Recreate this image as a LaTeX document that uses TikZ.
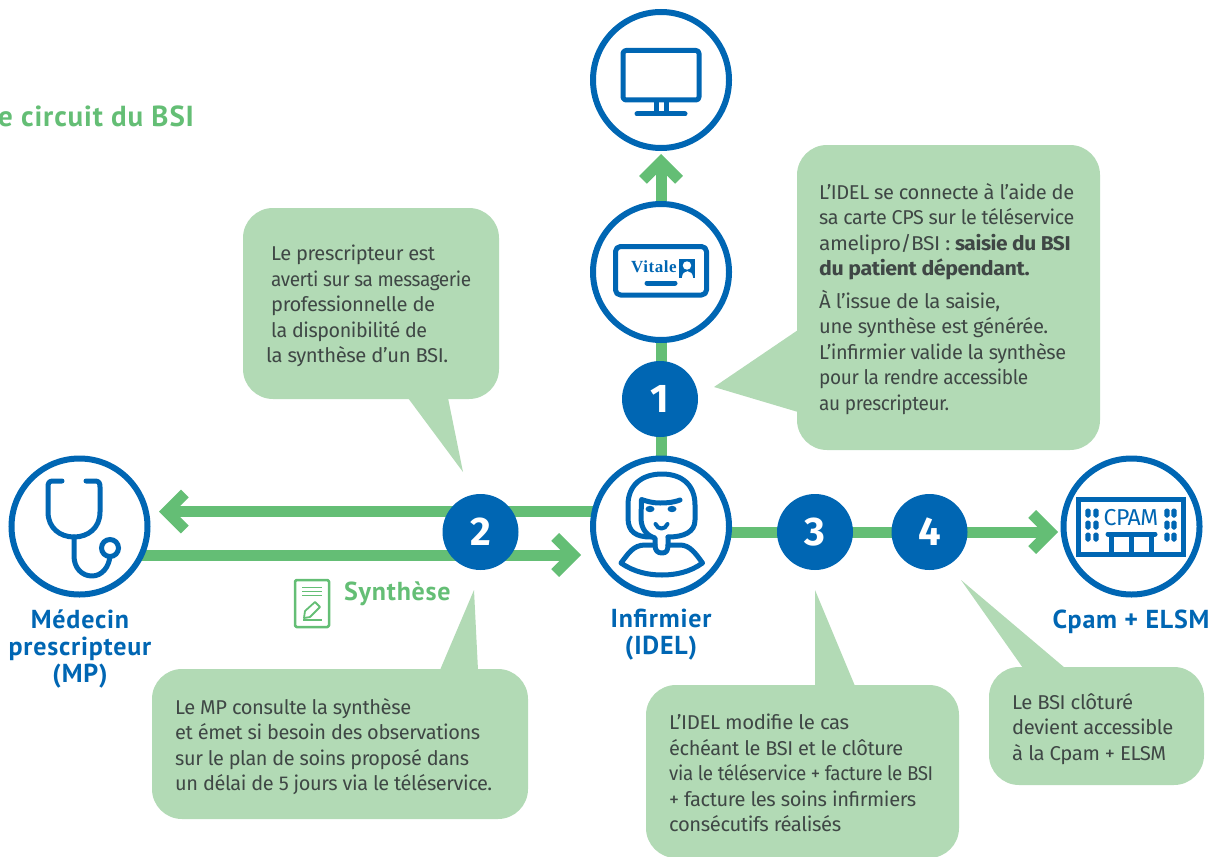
\documentclass[tikz,border=0pt]{standalone}
\usepackage{fontspec}
\usepackage{graphicx}
\setmainfont[LetterSpace=-2]{Fira Sans}
\newfontfamily\headfont[LetterSpace=3]{PT Sans}
\newfontfamily\vitfont[LetterSpace=3]{Liberation Serif}
\usetikzlibrary{arrows.meta,backgrounds}
\definecolor{bleu}{HTML}{0066B3}
\definecolor{vert}{HTML}{64BE75}
\definecolor{pale}{HTML}{B2DAB5}
\definecolor{encre}{HTML}{3F4745}
\newcommand{\ligne}[2]{\resizebox{#1pt}{\height}{#2}}
\tikzset{
  ring/.style={circle,draw=bleu,line width=6pt,fill=white,minimum size=136pt,inner sep=0pt},
  badge/.style={circle,fill=bleu,text=white,minimum size=76pt,inner sep=0pt,font=\fontsize{40}{40}\selectfont\bfseries},
  flow/.style={draw=vert,line width=11pt,-{Straight Barb[length=18pt,width=36pt,line width=11pt]}},
  flowplain/.style={draw=vert,line width=11pt},
  bubble/.style={fill=pale,rounded corners=30pt},
  tail/.style={fill=pale},
  body/.style={anchor=north west,inner sep=0pt,align=left,text=encre,font=\fontsize{20}{25.5}\selectfont},
  actor/.style={inner sep=0pt,align=center,text=bleu,font=\fontsize{26}{27}\selectfont\headfont\bfseries},
  icon/.style={draw=bleu,line width=5pt,line cap=round,line join=round},
  doc/.style={draw=vert,line width=2.5pt,line cap=round,line join=round},
}
\begin{document}
\begin{tikzpicture}[x=1pt,y=-1pt]
\useasboundingbox (0,0) rectangle (1214,856);
\clip (0,0) rectangle (1214,856);
% callouts
\fill[bubble] (243,208) rectangle (499,399);
\fill[tail] (408,398) -- (463,472) -- (448,398) -- cycle;
\fill[bubble] (797,145) rectangle (1100,450);
\fill[tail] (798,330) -- (714,387) -- (798,412) -- cycle;
\fill[bubble] (152,669) rectangle (528,819);
\fill[tail] (440,670) -- (474,590) -- (478,670) -- cycle;
\fill[bubble] (646,685) rectangle (959,858);
\fill[tail] (815,686) -- (815,590) -- (855,686) -- cycle;
\fill[bubble] (989,667) rectangle (1204,785);
\fill[tail] (1023,668) -- (961,580) -- (1065,668) -- cycle;
% circles
\node[ring] (screen) at (661,80) {};
\node[ring] (vitale) at (661,272) {};
\node[ring] (idel) at (661,526.5) {};
\node[ring] (mp) at (79.5,526.5) {};
\node[ring] (cpam) at (1131.5,526.5) {};
\node[badge] (b1) at (660,399) {1};
\node[badge] (b2) at (480.5,532) {2};
\node[badge] (b3) at (815,532) {3};
\node[badge] (b4) at (929.5,532) {4};
% arrow ends
\coordinate (tipscreen) at (661,154);
\coordinate (tipmp) at (159,511.5);
\coordinate (tipidel) at (581,555);
\coordinate (tipcpam) at (1058,532);
\begin{scope}[on background layer]
\draw[flowplain] (idel) -- (vitale);
\draw[flow] (vitale) -- (tipscreen);
\draw[flow] (idel |- tipmp) -- (tipmp);
\draw[flow] (mp |- tipidel) -- (tipidel);
\draw[flow] (idel |- tipcpam) -- (tipcpam);
\end{scope}
% monitor icon
\draw[icon,rounded corners=3pt] (623,50.5) rectangle (699,100);
\draw[icon,line cap=butt] (656,102) -- (656,113) (666,102) -- (666,113);
\draw[icon] (637,114) -- (685,114);
% vitale card icon
\draw[icon,rounded corners=5pt] (615.5,246.5) rectangle (706.5,295);
\node[inner sep=0pt,anchor=base west,text=bleu,font=\fontsize{17}{17}\selectfont\vitfont\bfseries] (vitxt) at (631,272) {Vitale};
\fill[bleu] (679,259) rectangle (695,277.5);
\fill[white] (687,265.5) circle (4.2);
\fill[white] (681.5,277.5) .. controls (681.5,269) and (692.5,269) .. (692.5,277.5) -- cycle;
\draw[icon] (647,283) -- (675,283);
% stethoscope
\draw[icon] (62,481) -- (53,481) .. controls (49,481) and (48,483) .. (48,487) -- (48,512)
  .. controls (48,528) and (60,537) .. (74,537) .. controls (88,537) and (100,528) .. (100,512)
  -- (100,487) .. controls (100,483) and (99,481) .. (95,481) -- (86,481);
\draw[icon] (74,537) -- (74,556) .. controls (74,568) and (82,576) .. (92,576) .. controls (102,576) and (109,567) .. (110,556);
\draw[draw=bleu,line width=5pt,fill=white] (110,548) circle (8.5);
% nurse
\draw[icon] (651,537) .. controls (636,537) and (628,532) .. (628,518) -- (628,505)
  .. controls (628,485) and (642,474) .. (662,474) .. controls (682,474) and (695,485) .. (695,505)
  -- (695,520) .. controls (695,532) and (684,537) .. (668,537);
\draw[icon] (680,500) .. controls (672,503) and (664,503) .. (660,503) .. controls (652,503) and (646,501) .. (641.5,499.5)
  -- (641,518) .. controls (641,530) and (648,536) .. (655,538) -- (655,545)
  .. controls (655,551) and (658,553) .. (662,553) .. controls (666,553) and (668,551) .. (668,545) -- (668,537);
\draw[icon] (655,545) -- (645,545) .. controls (633,545) and (628,554) .. (621,563)
  .. controls (634,572) and (648,575) .. (662,575) .. controls (676,575) and (690,572) .. (702.5,563)
  .. controls (696,554) and (690,545) .. (680,545) -- (668,545);
\fill[bleu] (650,509) ellipse (4.5 and 3.2) (672,509) ellipse (4.5 and 3.2);
\draw[icon,line width=4pt] (655.5,524) .. controls (658,530) and (665,530) .. (667.5,524);
% CPAM building
\draw[icon,line join=miter,line cap=butt] (1078.5,499) rectangle (1183.5,554);
\node[inner sep=0pt,text=bleu,font=\fontsize{23}{23}\selectfont] (cpamtxt) at (1131,518) {CPAM};
\foreach \px in {1088,1096,1167,1174}\foreach \py in {513,525,537}{
  \fill[bleu,rounded corners=1.8pt] (\px-2.7,\py-4.5) rectangle (\px+2.7,\py+4.5);
}
\draw[icon] (1108,534) -- (1155,534);
\draw[icon,line cap=butt] (1111.5,534) -- (1111.5,554) (1131.5,534) -- (1131.5,554) (1151.5,534) -- (1151.5,554);
% document icon
\draw[doc,rounded corners=1.5pt] (295,580) rectangle (329,627);
\draw[draw=vert,line width=1.5pt] (302,587.5) -- (322,587.5) (302,591.5) -- (322,591.5) (302,595.5) -- (322,595.5);
\draw[draw=vert,line width=1.8pt,line join=round] (304,618) -- (305,611) -- (315,602) -- (320,607) -- (310,617) -- cycle;
\draw[draw=vert,line width=2pt] (303,620) -- (322,620);
% labels
\node[actor] (lmp) at (80,648.5) {Médecin\\prescripteur\\(MP)};
\node[actor] (lidel) at (661,634.5) {Infirmier\\(IDEL)};
\node[actor,anchor=base] (lcpam) at (1131,628) {Cpam + ELSM};
\node[inner sep=0pt,anchor=base west,text=vert,font=\fontsize{26}{26}\selectfont\headfont\bfseries] (synth) at (344,600) {Synthèse};
\node[inner sep=0pt,anchor=base west,text=vert,font=\fontsize{29}{29}\selectfont\headfont\bfseries] (title) at (-2,126) {e circuit du BSI};
% texts
\node[body] (ta) at (266,245) {\hspace{5pt}\ligne{164}{Le prescripteur est}\\\hspace{5pt}\ligne{200}{averti sur sa messagerie}\\\hspace{5pt}\ligne{164}{professionnelle de}\\\hspace{5pt}\ligne{156}{la disponibilité de}\\\ligne{182}{la synthèse d’un BSI.}};
\node[body] (tb) at (819,183) {\ligne{255}{L’IDEL se connecte à l’aide de}\\\ligne{255}{sa carte CPS sur le téléservice}\\\ligne{251}{amelipro/BSI : \textbf{saisie du BSI}}\\\ligne{210}{\textbf{du patient dépendant.}}\\[7pt]\ligne{181}{À l’issue de la saisie,}\\\ligne{229}{une synthèse est générée.}\\\ligne{247}{L’infirmier valide la synthèse}\\\ligne{209}{pour la rendre accessible}\\\ligne{130}{au prescripteur.}};
\node[body] (tc) at (175,698) {\ligne{236}{Le MP consulte la synthèse}\\\ligne{305}{et émet si besoin des observations}\\\ligne{294}{sur le plan de soins proposé dans}\\\ligne{317}{un délai de 5 jours via le téléservice.}};
\node[body] (td) at (669,714) {\ligne{180}{L'IDEL modifie le cas}\\\ligne{234}{échéant le BSI et le clôture}\\\ligne{264}{via le téléservice + facture le BSI}\\\ligne{247}{+ facture les soins infirmiers}\\\ligne{172}{consécutifs réalisés}};
\node[body] (te) at (1012,693) {\ligne{121}{Le BSI clôturé}\\\ligne{161}{devient accessible}\\\ligne{154}{à la Cpam + ELSM}};
\end{tikzpicture}
\end{document}
